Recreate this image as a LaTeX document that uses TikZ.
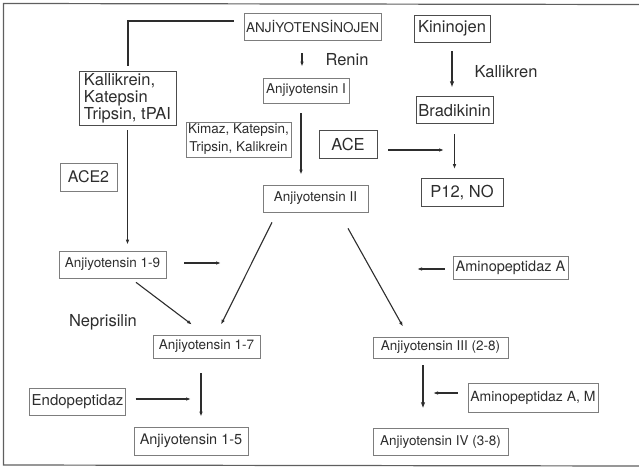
\documentclass[tikz,border=0pt]{standalone}
\usepackage{fontspec}
\setmainfont{TeX Gyre Heros}
\usetikzlibrary{arrows.meta,positioning}
\definecolor{inkgray}{RGB}{45,45,45}
\definecolor{boxgray}{RGB}{125,125,125}
\definecolor{framegray}{RGB}{95,95,95}

\begin{document}
\begin{tikzpicture}[x=1pt,y=-1pt,
      arr/.style={-{Latex[length=5pt,width=3.5pt]},line width=1.1pt,draw=inkgray},
      tarr/.style={-{Latex[length=6pt,width=4.5pt]},line width=2.2pt,draw=inkgray},
      sbox/.style={draw=boxgray,line width=0.7pt,inner sep=2pt,align=center,text=inkgray,
                   font=\fontsize{13.5}{18}\selectfont},
      lbox/.style={draw=inkgray!85,line width=0.8pt,inner sep=2pt,align=center,text=inkgray,
                   font=\fontsize{16.5}{17}\selectfont},
      lbl/.style={text=inkgray,font=\fontsize{16.5}{17}\selectfont}
    ]
    \useasboundingbox (0,0) rectangle (639,473);
    \draw[framegray,line width=1.2pt] (639,4.5) -- (3.5,3.5) -- (3.5,465) -- (639,466);

    % angiotensin column
    \node[sbox,minimum width=135pt,minimum height=27pt] (angn) at (312.5,26.5) {ANJİYOTENSİNOJEN};
    \node[sbox,minimum width=86pt,minimum height=25pt]  (ang1) at (306,90.5) {Anjiyotensin I};
    \node[sbox,minimum width=105pt,minimum height=35pt] (kimaz) at (238.5,139.5)
          {Kimaz, Katepsin,\\Tripsin, Kalikrein};
    \node[lbox,minimum width=58pt,minimum height=28pt]  (ace) at (348,144) {ACE};
    \node[sbox,minimum width=105pt,minimum height=27pt] (ang2) at (315.5,198.5) {Anjiyotensin II};
    \node[lbl] (renin) at (347,60) {Renin};

    % kinin column
    \node[lbox,minimum width=76pt,minimum height=27pt] (kinin) at (452,28.5) {Kininojen};
    \node[lbox,minimum width=77pt,minimum height=27pt,below=54pt of kinin,xshift=2.5pt] (bradi) {Bradikinin};
    \node[lbox,minimum width=82pt,minimum height=28pt,below=54pt of bradi,xshift=7.5pt] (p12) {P12, NO};
    \node[lbl] (kallikren) at (506,72) {Kallikren};

    % left branch
    \node[lbox,minimum width=97pt,minimum height=54pt,align=left] (kalli) at (127.5,98)
          {Kallikrein,\\Katepsin\\Tripsin, tPAI};
    \node[sbox,minimum width=57pt,minimum height=28pt,font=\fontsize{16}{17}\selectfont] (ace2) at (88.5,177) {ACE2};
    \node[sbox,minimum width=107pt,minimum height=27pt] (ang19) at (112.5,264.5) {Anjiyotensin 1-9};
    \node[lbl] (nepri) at (103,322) {Neprisilin};
    \node[sbox,minimum width=107pt,minimum height=23pt] (ang17) at (206.5,346.5) {Anjiyotensin 1-7};
    \node[sbox,minimum width=95pt,minimum height=27pt,font=\fontsize{15}{17}\selectfont] (endo) at (77.5,401.5) {Endopeptidaz};
    \node[sbox,minimum width=114pt,minimum height=28pt,font=\fontsize{14.5}{18}\selectfont] (ang15) at (191,441) {Anjiyotensin 1-5};

    % right branch
    \node[sbox,minimum width=115pt,minimum height=23pt,font=\fontsize{14.5}{18}\selectfont] (aminoa) at (510.5,267.5) {Aminopeptidaz A};
    \node[sbox,minimum width=135pt,minimum height=21pt] (ang3) at (440.5,347.5) {Anjiyotensin III (2-8)};
    \node[sbox,minimum width=130pt,minimum height=29pt,font=\fontsize{14}{18}\selectfont] (aminoam) at (533,397.5) {Aminopeptidaz A, M};
    \node[sbox,minimum width=135pt,minimum height=27pt,below=70pt of ang3] (ang4) {Anjiyotensin IV (3-8)};

    % free arrow ends
    \coordinate (acetip) at (444,150);
    \coordinate (n19tip) at (221,263);
    \coordinate (amatip) at (417,269);
    \coordinate (amtip)  at (433,393);
    \coordinate (endtip) at (191,399);

    % connectors
    \draw[inkgray,line width=2pt] ([xshift=-10pt,yshift=5.5pt]angn.west) -| ([yshift=5pt]kalli.north);
    \draw[arr] ([yshift=-5pt]kalli.south) -- ([yshift=6pt]kalli.south |- ang19.north);
    \draw[arr] ([xshift=-10.5pt,yshift=-13pt]angn.south) -- ([xshift=-4pt,yshift=11pt]ang1.north);
    \draw[arr] ([xshift=-5pt,yshift=-10pt]ang1.south) -- ([xshift=-14.5pt,yshift=10pt]ang2.north);
    \draw[tarr] ([yshift=-9pt]kinin.south) -- ([yshift=9pt]kinin.south |- bradi.north);
    \draw[arr] ([yshift=-10pt]bradi.south) -- ([yshift=9pt]bradi.south |- p12.north);
    \draw[arr] ([xshift=11pt,yshift=-6pt]ace.east) -- (acetip);
    \draw[arr] ([xshift=18pt,yshift=1.5pt]ang19.east) -- (n19tip);
    \draw[arr] ([xshift=23.5pt,yshift=-4pt]ang19.south) -- ([xshift=-14.5pt,yshift=10pt]ang17.north);
    \draw[arr] ([xshift=-43.5pt,yshift=-10pt]ang2.south) -- ([xshift=14.5pt,yshift=10pt]ang17.north);
    \draw[arr] ([xshift=32.5pt,yshift=-16pt]ang2.south) -- ([xshift=-37.5pt,yshift=10pt]ang3.north);
    \draw[arr] ([xshift=-8pt,yshift=-1.5pt]aminoa.west) -- (amatip);
    \draw[tarr] ([xshift=-17.5pt,yshift=-7pt]ang3.south) -- ([xshift=-17.5pt,yshift=20pt]ang4.north);
    \draw[arr] ([xshift=-10pt,yshift=4.5pt]aminoam.west) -- (amtip);
    \draw[arr] ([xshift=-5.5pt,yshift=-15pt]ang17.south) -- ([xshift=10pt,yshift=10pt]ang15.north);
    \draw[arr] ([xshift=10pt,yshift=2.5pt]endo.east) -- (endtip);
  \end{tikzpicture}
\end{document}
